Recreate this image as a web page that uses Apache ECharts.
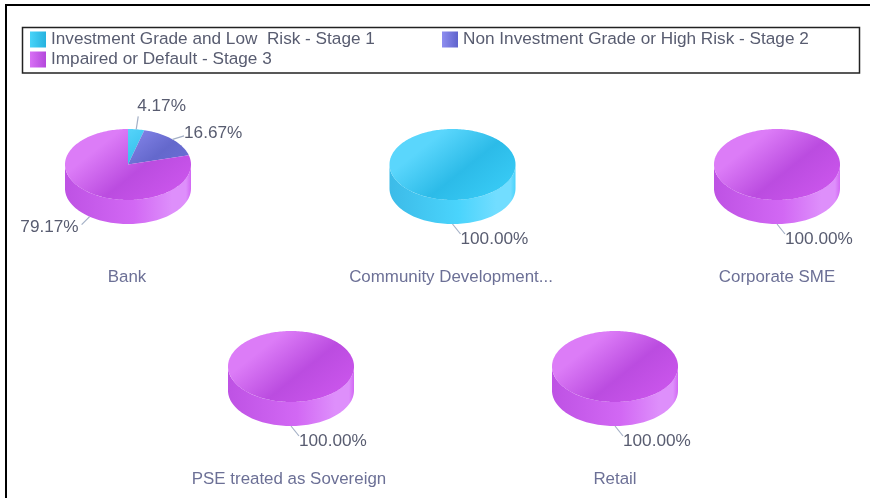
<!DOCTYPE html>
<html><head><meta charset="utf-8">
<style>html,body{margin:0;padding:0;background:#fff}#c{width:870px;height:498px;filter:blur(0.6px)}</style>
<script src="https://cdn.jsdelivr.net/npm/echarts@6/dist/echarts.min.js"></script>
</head><body><div id="c"></div>
<script>
const categories = ['Bank','Community Development...','Corporate SME','PSE treated as Sovereign','Retail'];
const stageNames = ['Investment Grade and Low  Risk - Stage 1','Non Investment Grade or High Risk - Stage 2','Impaired or Default - Stage 3'];
const stage1 = [4.17,100,0,0,0];
const stage2 = [16.67,0,0,0,0];
const stage3 = [79.17,0,100,100,100];
const stages = [stage1,stage2,stage3];

// layout
const centers = [[128,164.5],[452.5,164.5],[777,164.5],[291,366.5],[615,366.5]];
const titleLeft = [127,451,777,289,615];
const titleTop = [269,269,269,471,471];
const RX=63, RY=35.5, DEPTH=24;
const FONT='Liberation Sans, Arial, sans-serif';
const SIZE=17.2, TITLE_SIZE=16.9;
const LABEL='#585c70', CAT='#6c7096';
// [light, dark, mid, sideDark, sideMid, sideLight]
const palette = [
  ['#5ad6fc','#2cbbe8','#36c8f3','#3cbbe8','#4ad4fc','#72ddff'],
  ['#8c8cf0','#6468cc','#6c70d8','#6468cc','#7c7ee6','#a0a0f8'],
  ['#dc7cf7','#bb4ce0','#c854ea','#be52e4','#d268f4','#de8ffb']
];
const G = echarts.graphic.LinearGradient;
function ell(c,a,dy){return [c[0]+RX*Math.sin(a), c[1]-RY*Math.cos(a)+(dy||0)];}
function leader(mid){
  if(mid<30) return {dx:2,dy:-13,tx:-1,ty:-10.5,align:'left'};
  if(mid<90) return {dx:11.5,dy:-3.5,tx:0,ty:-2.5,align:'left'};
  if(mid<200) return {dx:8,dy:10,tx:0,ty:5.5,align:'left'};
  return {dx:-8,dy:8,tx:-3,ty:3,align:'right'};
}
function makeRender(si){
  return function(params,api){
    const i=api.value(0), v=api.value(1);
    if(!v) return null;
    const c=centers[i];
    let before=0,total=0;
    stages.forEach((s,k)=>{total+=s[i]; if(k<si) before+=s[i];});
    const a0=before/total*2*Math.PI, a1=(before+v)/total*2*Math.PI;
    const p=palette[si], kids=[];
    // side wall: only the front half (90deg..270deg) shows
    const s0=Math.max(a0,Math.PI/2), s1=Math.min(a1,Math.PI*1.5);
    if(s1>s0){
      const pts=[];
      for(let k=0;k<=80;k++) pts.push(ell(c,s0+(s1-s0)*k/80));
      for(let k=80;k>=0;k--) pts.push(ell(c,s0+(s1-s0)*k/80,DEPTH));
      kids.push({type:'polygon',shape:{points:pts},silent:true,style:{
        fill:new G(c[0]-RX,0,c[0]+RX,0,[{offset:0,color:p[3]},{offset:.55,color:p[4]},{offset:.85,color:p[5]},{offset:.96,color:p[5]},{offset:1,color:p[4]}],true)}});
    }
    // top face
    const top=[];
    const full=(a1-a0)>=2*Math.PI-1e-6;
    if(!full) top.push(c);
    const n=Math.max(8,Math.ceil((a1-a0)*40));
    for(let k=0;k<=n;k++) top.push(ell(c,a0+(a1-a0)*k/n));
    kids.push({type:'polygon',shape:{points:top},silent:true,style:{
      fill:new G(c[0]-RX*.45,c[1]-RY,c[0]+RX*.45,c[1]+RY,[{offset:0,color:p[0]},{offset:.15,color:p[0]},{offset:.62,color:p[1]},{offset:1,color:p[2]}],true)}});
    // leader + label
    const mid=(a0+a1)/2, deg=mid*180/Math.PI, L=leader(deg);
    const vis=(deg>90&&deg<270)?DEPTH:0;
    const st=ell(c,mid,vis), en=[st[0]+L.dx,st[1]+L.dy];
    kids.push({type:'line',silent:true,shape:{x1:st[0],y1:st[1],x2:en[0],y2:en[1]},style:{stroke:'#a4b0c6',lineWidth:1.2}});
    kids.push({type:'text',silent:true,style:{text:v.toFixed(2)+'%',x:en[0]+L.tx,y:en[1]+L.ty,
      fill:LABEL,font:SIZE+'px '+FONT,textAlign:L.align,textVerticalAlign:'middle'}});
    return {type:'group',children:kids};
  };
}
const legendIcon=[['#48d4f9','#26b2df'],['#8e8ef0','#5f63cc'],['#d870f5','#b448dc']];
const lg=i=>({name:stageNames[i],itemStyle:{color:new G(0,0,1,0,[{offset:0,color:legendIcon[i][0]},{offset:1,color:legendIcon[i][1]}])}});
const legendBase={orient:'horizontal',selectedMode:false,itemWidth:16,itemHeight:16,itemGap:8,icon:'rect',
  textStyle:{color:LABEL,fontSize:SIZE,fontFamily:FONT,padding:[1,0,0,0]},padding:0};
const option={
  animation:false,
  legend:[
    Object.assign({},legendBase,{left:30,top:31,data:[lg(0)]}),
    Object.assign({},legendBase,{left:442,top:31,data:[lg(1)]}),
    Object.assign({},legendBase,{left:30,top:51,data:[lg(2)]})
  ],
  title:categories.map((t,i)=>({text:t,left:titleLeft[i],top:titleTop[i],textAlign:'center',padding:0,
    textStyle:{color:CAT,fontSize:TITLE_SIZE,fontWeight:'normal',fontFamily:FONT}})),
  graphic:[
    {type:'line',silent:true,shape:{x1:5,y1:5,x2:870,y2:5},style:{stroke:'#000',lineWidth:2}},
    {type:'line',silent:true,shape:{x1:6,y1:4,x2:6,y2:498},style:{stroke:'#000',lineWidth:2}},
    {type:'rect',silent:true,shape:{x:22.5,y:27.5,width:837,height:45.5},style:{fill:'none',stroke:'#222',lineWidth:1.5}}
  ],
  series:stages.map((s,si)=>({
    type:'custom',name:stageNames[si],coordinateSystem:'none',silent:true,
    itemStyle:{color:palette[si][1]},
    renderItem:makeRender(si),
    data:s.map((v,i)=>[i,v])
  }))
};
const chart=echarts.init(document.getElementById('c'),null,{renderer:'canvas'});
chart.setOption(option);
</script></body></html>
